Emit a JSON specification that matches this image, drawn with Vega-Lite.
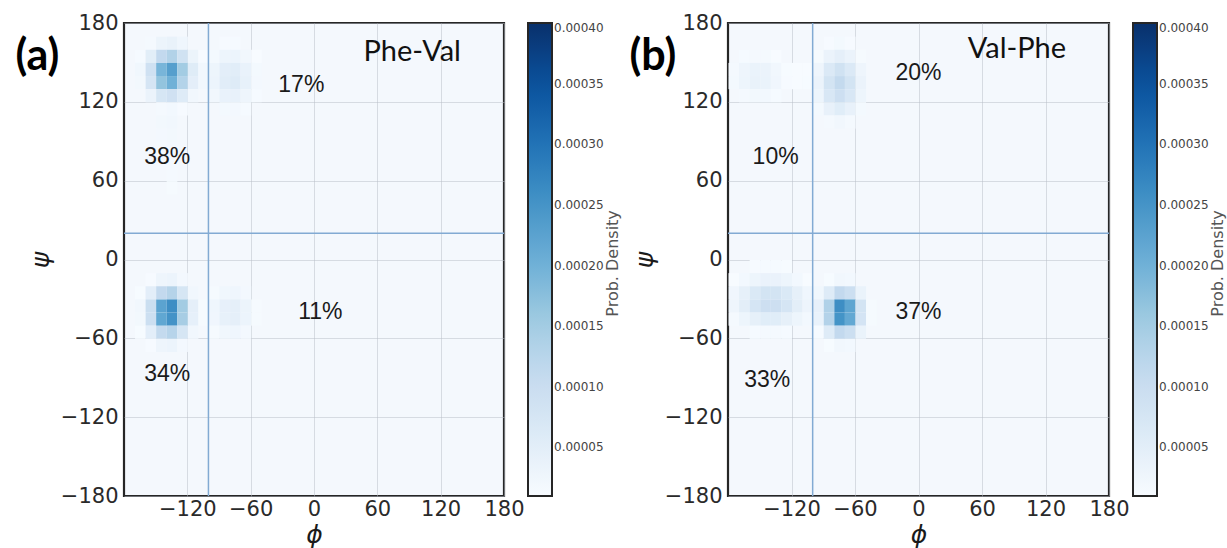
{
  "$schema": "https://vega.github.io/schema/vega-lite/v6.json",
  "padding": {"left": 14, "top": 10, "right": 0, "bottom": 0},
  "background": "white",
  "config": {
    "view": {"stroke": "#262626", "strokeWidth": 2.2, "fill": "#f4f8fd"},
    "axis": {"domain": false, "ticks": false, "grid": true, "gridColor": "#b8bec8", "gridOpacity": 0.5, "gridWidth": 1, "labelFont": "DejaVu Sans", "labelFontSize": 21, "labelColor": "#2a2a2a", "labelPadding": 6, "titleFont": "DejaVu Sans", "titleFontSize": 25, "titleFontStyle": "italic", "titleFontWeight": "normal", "titleColor": "#1a1a1a", "labelFlush": false, "labelOverlap": false, "zindex": 1},
    "axisX": {"labelPadding": 2},
    "legend": {"orient": "right", "offset": 24, "direction": "vertical", "gradientLength": 473, "gradientThickness": 24, "gradientStrokeColor": "#262626", "gradientStrokeWidth": 2, "labelFont": "DejaVu Sans", "labelFontSize": 12, "labelColor": "#444", "labelOffset": 2, "labelBaseline": "middle", "labelOverlap": false, "padding": 0}
  },
  "datasets": {
    "vline": [{"phi": -100}],
    "hline": [{"psi": 20}],
    "cells_a": [
      {"phi":-160,"psi":160,"d":1.5},{"phi":-150,"psi":160,"d":3.2},{"phi":-140,"psi":160,"d":3.8},{"phi":-130,"psi":160,"d":2.5},{"phi":-90,"psi":160,"d":1.2},{"phi":-80,"psi":160,"d":1.3},
      {"phi":-170,"psi":150,"d":1.3},{"phi":-160,"psi":150,"d":5.1},{"phi":-150,"psi":150,"d":11.2},{"phi":-140,"psi":150,"d":13.3},{"phi":-130,"psi":150,"d":8.7},{"phi":-120,"psi":150,"d":3.2},{"phi":-110,"psi":150,"d":1.2},{"phi":-100,"psi":150,"d":1.7},{"phi":-90,"psi":150,"d":2.9},{"phi":-80,"psi":150,"d":3.1},{"phi":-70,"psi":150,"d":2.2},{"phi":-60,"psi":150,"d":1.0},
      {"phi":-170,"psi":140,"d":2.3},{"phi":-160,"psi":140,"d":8.9},{"phi":-150,"psi":140,"d":19.3},{"phi":-140,"psi":140,"d":23.1},{"phi":-130,"psi":140,"d":15.1},{"phi":-120,"psi":140,"d":5.6},{"phi":-110,"psi":140,"d":2.2},{"phi":-100,"psi":140,"d":2.9},{"phi":-90,"psi":140,"d":4.9},{"phi":-80,"psi":140,"d":5.3},{"phi":-70,"psi":140,"d":3.7},{"phi":-60,"psi":140,"d":1.7},
      {"phi":-170,"psi":130,"d":2.0},{"phi":-160,"psi":130,"d":7.7},{"phi":-150,"psi":130,"d":16.7},{"phi":-140,"psi":130,"d":20.0},{"phi":-130,"psi":130,"d":13.1},{"phi":-120,"psi":130,"d":4.8},{"phi":-110,"psi":130,"d":2.2},{"phi":-100,"psi":130,"d":3.1},{"phi":-90,"psi":130,"d":5.3},{"phi":-80,"psi":130,"d":5.8},{"phi":-70,"psi":130,"d":4.1},{"phi":-60,"psi":130,"d":1.8},
      {"phi":-160,"psi":120,"d":3.4},{"phi":-150,"psi":120,"d":7.4},{"phi":-140,"psi":120,"d":8.8},{"phi":-130,"psi":120,"d":5.8},{"phi":-120,"psi":120,"d":2.1},{"phi":-100,"psi":120,"d":2.2},{"phi":-90,"psi":120,"d":3.7},{"phi":-80,"psi":120,"d":4.0},{"phi":-70,"psi":120,"d":2.8},{"phi":-60,"psi":120,"d":1.3},
      {"phi":-150,"psi":110,"d":1.6},{"phi":-140,"psi":110,"d":1.9},{"phi":-130,"psi":110,"d":1.2},{"phi":-90,"psi":110,"d":1.7},{"phi":-80,"psi":110,"d":1.8},{"phi":-70,"psi":110,"d":1.3},
      {"phi":-150,"psi":100,"d":2.0},{"phi":-140,"psi":100,"d":2.2},{"phi":-150,"psi":90,"d":1.8},{"phi":-140,"psi":90,"d":2.0},{"phi":-150,"psi":80,"d":1.6},{"phi":-140,"psi":80,"d":1.8},{"phi":-150,"psi":70,"d":1.5},{"phi":-140,"psi":70,"d":1.6},{"phi":-140,"psi":60,"d":1.5},{"phi":-140,"psi":50,"d":1.4},
      {"phi":-160,"psi":-20,"d":1.2},{"phi":-150,"psi":-20,"d":2.7},{"phi":-140,"psi":-20,"d":3.1},{"phi":-130,"psi":-20,"d":1.8},
      {"phi":-170,"psi":-30,"d":1.1},{"phi":-160,"psi":-30,"d":4.9},{"phi":-150,"psi":-30,"d":11.2},{"phi":-140,"psi":-30,"d":12.9},{"phi":-130,"psi":-30,"d":7.5},{"phi":-120,"psi":-30,"d":2.1},{"phi":-100,"psi":-30,"d":1.4},{"phi":-90,"psi":-30,"d":2.3},{"phi":-80,"psi":-30,"d":2.5},{"phi":-70,"psi":-30,"d":1.8},
      {"phi":-170,"psi":-40,"d":2.1},{"phi":-160,"psi":-40,"d":9.9},{"phi":-150,"psi":-40,"d":22.4},{"phi":-140,"psi":-40,"d":25.9},{"phi":-130,"psi":-40,"d":15.0},{"phi":-120,"psi":-40,"d":4.5},{"phi":-110,"psi":-40,"d":1.4},{"phi":-100,"psi":-40,"d":2.5},{"phi":-90,"psi":-40,"d":4.2},{"phi":-80,"psi":-40,"d":4.6},{"phi":-70,"psi":-40,"d":3.2},{"phi":-60,"psi":-40,"d":1.4},
      {"phi":-170,"psi":-50,"d":2.0},{"phi":-160,"psi":-50,"d":9.6},{"phi":-150,"psi":-50,"d":21.8},{"phi":-140,"psi":-50,"d":25.2},{"phi":-130,"psi":-50,"d":14.6},{"phi":-120,"psi":-50,"d":4.3},{"phi":-110,"psi":-50,"d":1.4},{"phi":-100,"psi":-50,"d":2.4},{"phi":-90,"psi":-50,"d":4.1},{"phi":-80,"psi":-50,"d":4.5},{"phi":-70,"psi":-50,"d":3.1},{"phi":-60,"psi":-50,"d":1.4},
      {"phi":-170,"psi":-60,"d":1.1},{"phi":-160,"psi":-60,"d":4.9},{"phi":-150,"psi":-60,"d":11.0},{"phi":-140,"psi":-60,"d":12.7},{"phi":-130,"psi":-60,"d":7.4},{"phi":-120,"psi":-60,"d":2.1},{"phi":-100,"psi":-60,"d":1.4},{"phi":-90,"psi":-60,"d":2.3},{"phi":-80,"psi":-60,"d":2.5},{"phi":-70,"psi":-60,"d":1.8},
      {"phi":-160,"psi":-70,"d":1.2},{"phi":-150,"psi":-70,"d":2.7},{"phi":-140,"psi":-70,"d":3.1},{"phi":-130,"psi":-70,"d":1.8}
    ],
    "cells_b": [
      {"phi":-170,"psi":150,"d":1.3},{"phi":-160,"psi":150,"d":1.6},{"phi":-150,"psi":150,"d":1.5},{"phi":-140,"psi":150,"d":1.0},
      {"phi":-180,"psi":140,"d":1.5},{"phi":-170,"psi":140,"d":2.7},{"phi":-160,"psi":140,"d":3.5},{"phi":-150,"psi":140,"d":3.3},{"phi":-140,"psi":140,"d":2.2},{"phi":-130,"psi":140,"d":1.1},{"phi":-120,"psi":140,"d":1.0},{"phi":-110,"psi":140,"d":1.0},
      {"phi":-180,"psi":130,"d":1.7},{"phi":-170,"psi":130,"d":2.9},{"phi":-160,"psi":130,"d":3.8},{"phi":-150,"psi":130,"d":3.5},{"phi":-140,"psi":130,"d":2.4},{"phi":-130,"psi":130,"d":1.2},{"phi":-120,"psi":130,"d":1.0},{"phi":-110,"psi":130,"d":1.1},
      {"phi":-170,"psi":120,"d":1.5},{"phi":-160,"psi":120,"d":2.0},{"phi":-150,"psi":120,"d":1.9},{"phi":-140,"psi":120,"d":1.3},
      {"phi":-90,"psi":160,"d":1.2},{"phi":-80,"psi":160,"d":1.7},{"phi":-70,"psi":160,"d":1.2},
      {"phi":-100,"psi":150,"d":1.4},{"phi":-90,"psi":150,"d":3.4},{"phi":-80,"psi":150,"d":4.6},{"phi":-70,"psi":150,"d":3.4},{"phi":-60,"psi":150,"d":1.4},
      {"phi":-100,"psi":140,"d":2.7},{"phi":-90,"psi":140,"d":6.4},{"phi":-80,"psi":140,"d":8.7},{"phi":-70,"psi":140,"d":6.4},{"phi":-60,"psi":140,"d":2.7},
      {"phi":-100,"psi":130,"d":3.4},{"phi":-90,"psi":130,"d":8.1},{"phi":-80,"psi":130,"d":11.0},{"phi":-70,"psi":130,"d":8.1},{"phi":-60,"psi":130,"d":3.4},
      {"phi":-100,"psi":120,"d":2.9},{"phi":-90,"psi":120,"d":7.0},{"phi":-80,"psi":120,"d":9.4},{"phi":-70,"psi":120,"d":7.0},{"phi":-60,"psi":120,"d":2.9},
      {"phi":-100,"psi":110,"d":1.7},{"phi":-90,"psi":110,"d":4.0},{"phi":-80,"psi":110,"d":5.4},{"phi":-70,"psi":110,"d":4.0},{"phi":-60,"psi":110,"d":1.7},
      {"phi":-90,"psi":100,"d":1.6},{"phi":-80,"psi":100,"d":2.1},{"phi":-70,"psi":100,"d":1.6},
      {"phi":-160,"psi":-10,"d":1.2},{"phi":-150,"psi":-10,"d":1.3},{"phi":-140,"psi":-10,"d":1.3},{"phi":-130,"psi":-10,"d":1.1},
      {"phi":-180,"psi":-20,"d":1.0},{"phi":-170,"psi":-20,"d":1.9},{"phi":-160,"psi":-20,"d":2.9},{"phi":-150,"psi":-20,"d":3.6},{"phi":-140,"psi":-20,"d":3.6},{"phi":-130,"psi":-20,"d":2.9},{"phi":-120,"psi":-20,"d":1.9},{"phi":-110,"psi":-20,"d":1.0},{"phi":-90,"psi":-20,"d":1.1},{"phi":-80,"psi":-20,"d":2.2},{"phi":-70,"psi":-20,"d":1.9},
      {"phi":-180,"psi":-30,"d":2.4},{"phi":-170,"psi":-30,"d":4.4},{"phi":-160,"psi":-30,"d":6.6},{"phi":-150,"psi":-30,"d":8.1},{"phi":-140,"psi":-30,"d":8.1},{"phi":-130,"psi":-30,"d":6.6},{"phi":-120,"psi":-30,"d":4.4},{"phi":-110,"psi":-30,"d":2.5},{"phi":-100,"psi":-30,"d":2.3},{"phi":-90,"psi":-30,"d":5.9},{"phi":-80,"psi":-30,"d":11.2},{"phi":-70,"psi":-30,"d":9.6},{"phi":-60,"psi":-30,"d":3.5},
      {"phi":-180,"psi":-40,"d":2.7},{"phi":-170,"psi":-40,"d":5.0},{"phi":-160,"psi":-40,"d":7.7},{"phi":-150,"psi":-40,"d":9.4},{"phi":-140,"psi":-40,"d":9.4},{"phi":-130,"psi":-40,"d":7.7},{"phi":-120,"psi":-40,"d":5.0},{"phi":-110,"psi":-40,"d":3.0},{"phi":-100,"psi":-40,"d":4.2},{"phi":-90,"psi":-40,"d":13.5},{"phi":-80,"psi":-40,"d":25.9},{"phi":-70,"psi":-40,"d":22.1},{"phi":-60,"psi":-40,"d":8.1},{"phi":-50,"psi":-40,"d":1.4},
      {"phi":-180,"psi":-50,"d":1.6},{"phi":-170,"psi":-50,"d":2.9},{"phi":-160,"psi":-50,"d":4.4},{"phi":-150,"psi":-50,"d":5.4},{"phi":-140,"psi":-50,"d":5.4},{"phi":-130,"psi":-50,"d":4.4},{"phi":-120,"psi":-50,"d":2.9},{"phi":-110,"psi":-50,"d":1.9},{"phi":-100,"psi":-50,"d":3.7},{"phi":-90,"psi":-50,"d":13.2},{"phi":-80,"psi":-50,"d":25.1},{"phi":-70,"psi":-50,"d":21.5},{"phi":-60,"psi":-50,"d":7.9},{"phi":-50,"psi":-50,"d":1.4},
      {"phi":-160,"psi":-60,"d":1.3},{"phi":-150,"psi":-60,"d":1.6},{"phi":-140,"psi":-60,"d":1.6},{"phi":-130,"psi":-60,"d":1.3},{"phi":-100,"psi":-60,"d":1.3},{"phi":-90,"psi":-60,"d":5.9},{"phi":-80,"psi":-60,"d":11.2},{"phi":-70,"psi":-60,"d":9.6},{"phi":-60,"psi":-60,"d":3.5},
      {"phi":-90,"psi":-70,"d":1.1},{"phi":-80,"psi":-70,"d":2.2},{"phi":-70,"psi":-70,"d":1.9}
    ],
    "pct_a": [{"phi":-12,"psi":133,"t":"17%"},{"phi":-139,"psi":78,"t":"38%"},{"phi":6,"psi":-40,"t":"11%"},{"phi":-139,"psi":-87,"t":"34%"}],
    "name_a": [{"phi":93,"psi":158,"t":"Phe-Val"}],
    "letter_a": [{"phi":-262,"psi":154,"t":"(a)"}],
    "cbar_a": [{"phi":283,"psi":-3,"t":"Prob. Density"}],
    "pct_b": [{"phi":0,"psi":142,"t":"20%"},{"phi":-135,"psi":78,"t":"10%"},{"phi":0,"psi":-40,"t":"37%"},{"phi":-143,"psi":-92,"t":"33%"}],
    "name_b": [{"phi":93,"psi":160,"t":"Val-Phe"}],
    "letter_b": [{"phi":-251,"psi":154,"t":"(b)"}],
    "cbar_b": [{"phi":283,"psi":-3,"t":"Prob. Density"}]
  },
  "spacing": 224,
  "bounds": "flush",
  "resolve": {"scale": {"color": "independent"}, "legend": {"color": "independent"}},
  "hconcat": [
    {
      "width": 380, "height": 473,
      "layer": [
        {"data": {"name": "cells_a"}, "mark": {"type": "rect"},
         "encoding": {
           "x": {"field": "phi", "type": "quantitative", "bin": {"binned": true, "step": 10}, "scale": {"domain": [-180, 180], "nice": false, "zero": false}, "axis": {"values": [-120, -60, 0, 60, 120, 180], "title": "ϕ", "titlePadding": 3}},
           "y": {"field": "psi", "type": "quantitative", "bin": {"binned": true, "step": 10}, "scale": {"domain": [-180, 180], "nice": false, "zero": false}, "axis": {"values": [-180, -120, -60, 0, 60, 120, 180], "title": "ψ", "titlePadding": 7}},
           "color": {"field": "d", "type": "quantitative", "scale": {"domain": [1, 5.875, 10.75, 15.625, 20.5, 25.375, 30.25, 35.125, 40], "range": ["#f7fbff", "#deebf7", "#c6dbef", "#9ecae1", "#6baed6", "#4292c6", "#2171b5", "#08519c", "#08306b"], "clamp": true},
             "legend": {"values": [5, 10, 15, 20, 25, 30, 35, 40], "labelExpr": "format(datum.value/100000, '.5f')", "title": null}}
         }},
        {"data": {"name": "vline"}, "mark": {"type": "rule", "color": "#82aad3", "strokeWidth": 1.5}, "encoding": {"x": {"field": "phi", "type": "quantitative"}}},
        {"data": {"name": "hline"}, "mark": {"type": "rule", "color": "#82aad3", "strokeWidth": 1.5}, "encoding": {"y": {"field": "psi", "type": "quantitative"}}},
        {"data": {"name": "pct_a"}, "mark": {"type": "text", "font": "Liberation Sans", "fontSize": 23, "color": "#1a1a1a"}, "encoding": {"x": {"field": "phi", "type": "quantitative"}, "y": {"field": "psi", "type": "quantitative"}, "text": {"field": "t"}}},
        {"data": {"name": "name_a"}, "mark": {"type": "text", "font": "Lato", "fontSize": 29, "color": "#111"}, "encoding": {"x": {"field": "phi", "type": "quantitative"}, "y": {"field": "psi", "type": "quantitative"}, "text": {"field": "t"}}},
        {"data": {"name": "letter_a"}, "mark": {"type": "text", "font": "Lato", "fontWeight": "bold", "fontSize": 43, "color": "#000"}, "encoding": {"x": {"field": "phi", "type": "quantitative"}, "y": {"field": "psi", "type": "quantitative"}, "text": {"field": "t"}}},
        {"data": {"name": "cbar_a"}, "mark": {"type": "text", "font": "DejaVu Sans", "fontSize": 16, "color": "#555", "angle": 270}, "encoding": {"x": {"field": "phi", "type": "quantitative"}, "y": {"field": "psi", "type": "quantitative"}, "text": {"field": "t"}}}
      ]
    },
    {
      "width": 381, "height": 473,
      "layer": [
        {"data": {"name": "cells_b"}, "mark": {"type": "rect"},
         "encoding": {
           "x": {"field": "phi", "type": "quantitative", "bin": {"binned": true, "step": 10}, "scale": {"domain": [-180, 180], "nice": false, "zero": false}, "axis": {"values": [-120, -60, 0, 60, 120, 180], "title": "ϕ", "titlePadding": 3}},
           "y": {"field": "psi", "type": "quantitative", "bin": {"binned": true, "step": 10}, "scale": {"domain": [-180, 180], "nice": false, "zero": false}, "axis": {"values": [-180, -120, -60, 0, 60, 120, 180], "title": "ψ", "titlePadding": 7}},
           "color": {"field": "d", "type": "quantitative", "scale": {"domain": [1, 5.875, 10.75, 15.625, 20.5, 25.375, 30.25, 35.125, 40], "range": ["#f7fbff", "#deebf7", "#c6dbef", "#9ecae1", "#6baed6", "#4292c6", "#2171b5", "#08519c", "#08306b"], "clamp": true},
             "legend": {"values": [5, 10, 15, 20, 25, 30, 35, 40], "labelExpr": "format(datum.value/100000, '.5f')", "title": null}}
         }},
        {"data": {"name": "vline"}, "mark": {"type": "rule", "color": "#82aad3", "strokeWidth": 1.5}, "encoding": {"x": {"field": "phi", "type": "quantitative"}}},
        {"data": {"name": "hline"}, "mark": {"type": "rule", "color": "#82aad3", "strokeWidth": 1.5}, "encoding": {"y": {"field": "psi", "type": "quantitative"}}},
        {"data": {"name": "pct_b"}, "mark": {"type": "text", "font": "Liberation Sans", "fontSize": 23, "color": "#1a1a1a"}, "encoding": {"x": {"field": "phi", "type": "quantitative"}, "y": {"field": "psi", "type": "quantitative"}, "text": {"field": "t"}}},
        {"data": {"name": "name_b"}, "mark": {"type": "text", "font": "Lato", "fontSize": 29, "color": "#111"}, "encoding": {"x": {"field": "phi", "type": "quantitative"}, "y": {"field": "psi", "type": "quantitative"}, "text": {"field": "t"}}},
        {"data": {"name": "letter_b"}, "mark": {"type": "text", "font": "Lato", "fontWeight": "bold", "fontSize": 43, "color": "#000"}, "encoding": {"x": {"field": "phi", "type": "quantitative"}, "y": {"field": "psi", "type": "quantitative"}, "text": {"field": "t"}}},
        {"data": {"name": "cbar_b"}, "mark": {"type": "text", "font": "DejaVu Sans", "fontSize": 16, "color": "#555", "angle": 270}, "encoding": {"x": {"field": "phi", "type": "quantitative"}, "y": {"field": "psi", "type": "quantitative"}, "text": {"field": "t"}}}
      ]
    }
  ]
}
